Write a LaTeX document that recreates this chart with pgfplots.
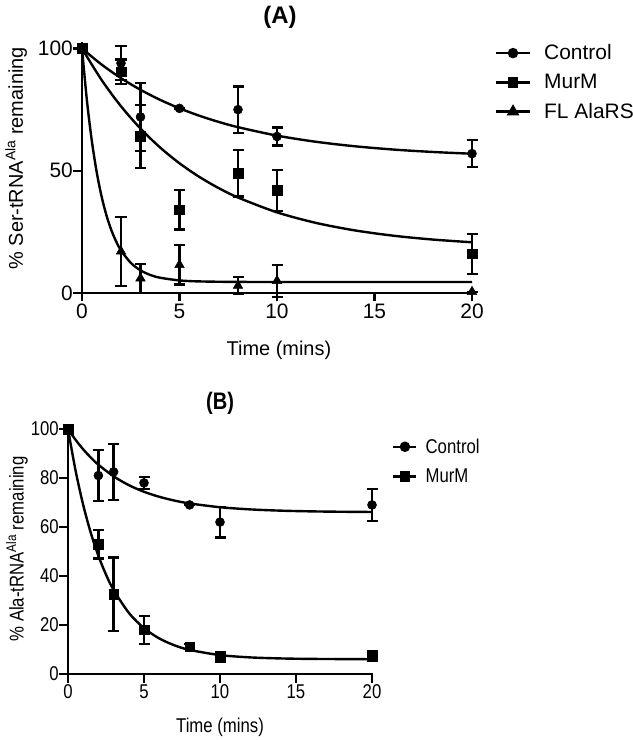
\documentclass[border=0pt]{standalone}
\usepackage{fontspec}
\setmainfont{Liberation Sans}
\newfontfamily\narrowfont[FakeStretch=0.84]{Liberation Sans}
\usepackage{pgfplots}
\pgfplotsset{compat=1.18}

\pgfplotsset{
  prism/.style={
    scale only axis, xmin=0, xmax=20, ymin=0, clip=false,
    axis x line*=bottom, axis y line*=left,
    axis line style={-, line width=2.7bp, line cap=rect},
    tick align=outside, major tick length=8.5bp,
    tick style={line width=2.4bp, black},
    xtick={0,5,10,15,20},
    /pgf/number format/assume math mode=true,
    xticklabel style={inner ysep=2bp},
    yticklabel style={inner xsep=0.5bp},
    legend cell align=left,
    legend style={draw=none, fill=none, inner sep=0pt, anchor=north west},
  },
  fit/.style={line width=2.4bp, black, smooth, no marks, forget plot},
  pts/.style={only marks, black, forget plot, mark options={solid, fill=black, line width=0.5bp},
    /pgfplots/error bars/y dir=both, /pgfplots/error bars/y explicit,
    /pgfplots/error bars/error bar style={line width=2.3bp, black},
    /pgfplots/error bars/error mark options={rotate=90, line width=2.3bp, mark size=5.5bp, black}},
}

\begin{document}
\begin{tikzpicture}
\useasboundingbox (0,0) rectangle (633bp,740bp);

% ---------------- (A)
\begin{axis}[prism,
  at={(82bp,447bp)}, anchor=south west,
  width=390bp, height=249.4bp, ymax=102,
  ytick={0,50,100},
  every tick label/.append style={font=\fontsize{21}{25}\selectfont},
  ylabel={\% Ser-tRNA\textsuperscript{Ala} remaining},
  xlabel={Time (mins)},
  label style={font=\fontsize{20}{24}\selectfont},
  ylabel style={at={(axis description cs:-0.169,0.54)}, anchor=center},
  xlabel style={at={(axis description cs:0.505,-0.229)}, anchor=center},
  legend style={at={(rel axis cs:1.058,1.004)}, font=\fontsize{21}{25}\selectfont,
    row sep=9bp, column sep=11bp},
  legend image code/.code={\draw[#1, mark repeat=2, mark phase=2] plot coordinates {(0bp,0bp) (17bp,0bp) (34bp,0bp)};},
]
\addplot[fit] coordinates {(0,100) (1,93.46) (2,87.87) (3,83.10) (4,79.02) (5,75.53) (6,72.54) (7,69.99) (8,67.82) (10,64.36) (12,61.84) (14,60.00) (16,58.65) (18,57.67) (20,56.95)};
\addplot[fit] coordinates {(0,100) (1,87.18) (2,76.37) (3,67.24) (4,59.54) (5,53.05) (6,47.57) (7,42.94) (8,39.05) (10,32.98) (12,28.66) (14,25.59) (16,23.40) (18,21.85) (20,20.74)};
\addplot[fit] coordinates {(0,100) (0.25,78.88) (0.5,62.42) (0.75,49.61) (1,39.63) (1.25,31.86) (1.5,25.81) (1.75,21.10) (2,17.42) (2.5,12.34) (3,9.26) (3.5,7.38) (4,6.25) (5,5.14) (6,4.74) (8,4.53) (12,4.5) (20,4.5)};

\addplot[pts, mark=*, mark size=4.5bp] table[row sep=\\, y error=e] {
x y e \\ 0 100 0 \\ 2 94 7 \\ 3 72 14 \\ 5 75.5 0 \\ 8 75 9.5 \\ 10 64 3.7 \\ 20 57 5.5 \\};
\addplot[pts, mark=square*, mark size=4.8bp] table[row sep=\\, y error=e] {
x y e \\ 0 100 0 \\ 2 90.5 5 \\ 3 64 13 \\ 5 34 8 \\ 8 49 9.5 \\ 10 42 8.4 \\ 20 16 8.2 \\};
\addplot[pts, mark=triangle*, mark size=5.5bp] table[row sep=\\, y error=e] {
x y e \\ 0 100 0 \\ 2 17 14 \\ 3 6 6 \\ 5 11.5 8 \\ 8 3 3.5 \\ 10 5 6.5 \\ 20 0.5 0 \\};

\addlegendimage{line width=2.4bp, black, mark=*, mark size=4bp, mark options={solid}}
\addlegendentry{Control}
\addlegendimage{line width=2.4bp, black, mark=square*, mark size=4bp, mark options={solid}}
\addlegendentry{MurM}
\addlegendimage{line width=2.4bp, black, mark=triangle*, mark size=5bp, mark options={solid}}
\addlegendentry{FL AlaRS}
\end{axis}
\node[font=\bfseries\fontsize{24}{28}\selectfont] at (280bp,723bp) {(A)};

% ---------------- (B)
\begin{axis}[prism,
  at={(68bp,66bp)}, anchor=south west,
  width=304bp, height=245bp, ymax=100,
  ytick={0,20,40,60,80,100},
  every tick label/.append style={font=\narrowfont\fontsize{20}{24}\selectfont},
  ylabel={\% Ala-tRNA\textsuperscript{Ala} remaining},
  xlabel={Time (mins)},
  label style={font=\narrowfont\fontsize{20}{24}\selectfont},
  ylabel style={at={(axis description cs:-0.168,0.51)}, anchor=center},
  xlabel style={at={(axis description cs:0.5,-0.216)}, anchor=center},
  legend style={at={(rel axis cs:1.066,0.969)}, font=\narrowfont\fontsize{20}{24}\selectfont,
    row sep=10bp, column sep=6bp},
  legend image code/.code={\draw[#1, mark repeat=2, mark phase=2] plot coordinates {(0bp,0bp) (11.5bp,0bp) (23bp,0bp)};},
]
\addplot[fit] coordinates {(0,100) (0.5,95.56) (1,91.70) (1.5,88.34) (2,85.42) (3,80.68) (4,77.09) (5,74.38) (6,72.34) (7,70.79) (8,69.62) (10,68.07) (12,67.18) (14,66.67) (16,66.38) (18,66.22) (20,66.13)};
\addplot[fit] coordinates {(0,100) (0.5,82.96) (1,69.01) (1.5,57.59) (2,48.24) (2.5,40.58) (3,34.31) (4,24.98) (5,18.72) (6,14.53) (7,11.72) (8,9.83) (10,7.72) (12,6.77) (14,6.35) (16,6.16) (20,6.03)};

\addplot[pts, mark=*, mark size=4.5bp] table[row sep=\\, y error=e] {
x y e \\ 0 100 0 \\ 2 81 10.5 \\ 3 82.5 11.5 \\ 5 78 2.4 \\ 8 69 0 \\ 10 62 6.3 \\ 20 69 6.6 \\};
\addplot[pts, mark=square*, mark size=4.8bp] table[row sep=\\, y error=e] {
x y e \\ 0 100 0 \\ 2 53 5.8 \\ 3 32.5 15 \\ 5 18 5.8 \\ 8 11.2 1 \\ 10 7 2 \\ 20 7.5 2 \\};

\addlegendimage{line width=2.4bp, black, mark=*, mark size=4bp, mark options={solid}}
\addlegendentry{Control}
\addlegendimage{line width=2.4bp, black, mark=square*, mark size=4bp, mark options={solid}}
\addlegendentry{MurM}
\end{axis}
\node[font=\narrowfont\bfseries\fontsize{24}{28}\selectfont] at (220bp,337bp) {(B)};
\end{tikzpicture}
\end{document}
